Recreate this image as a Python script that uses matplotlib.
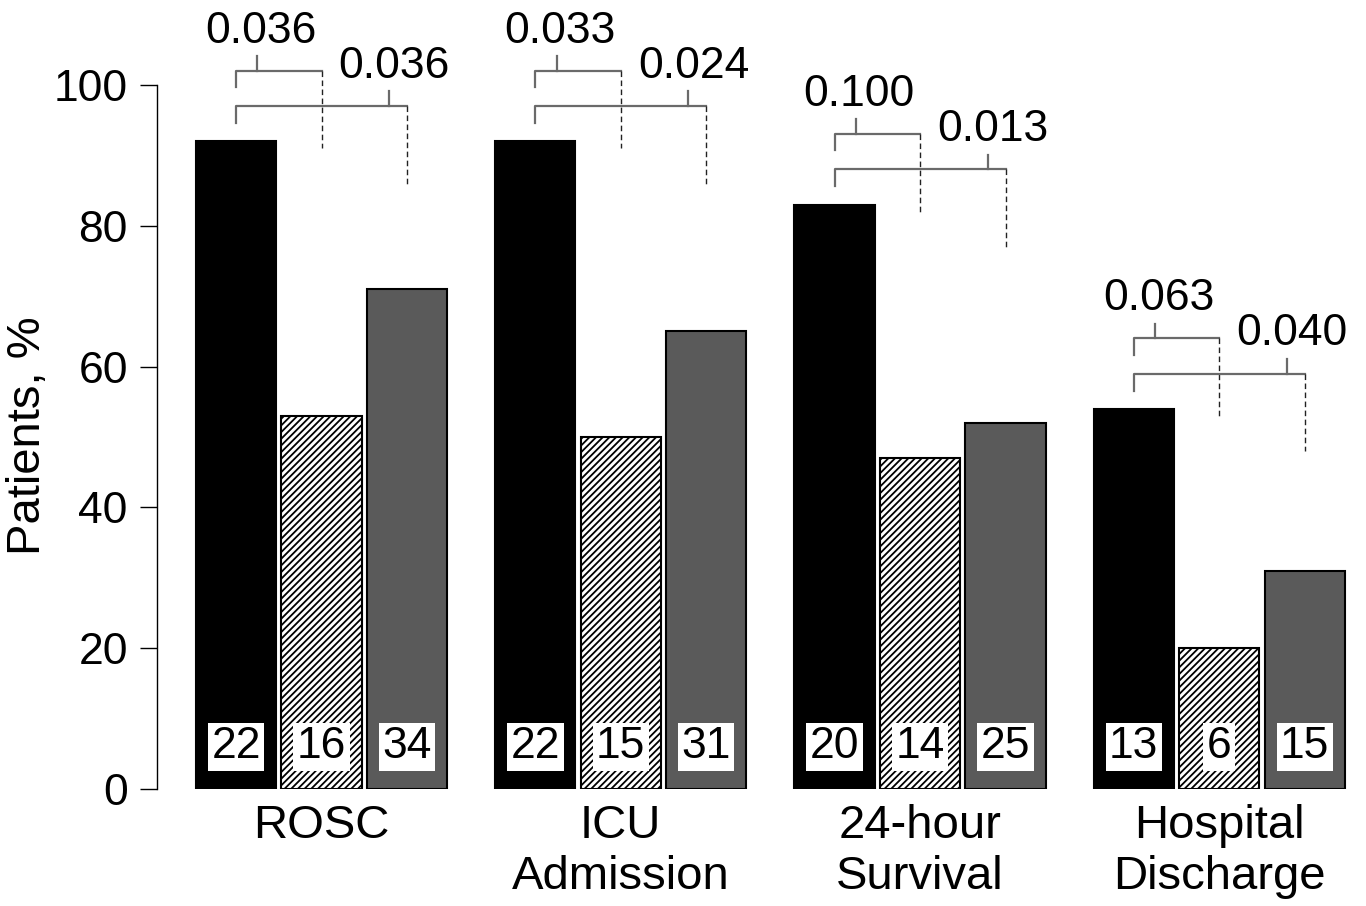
import numpy as np
import matplotlib
matplotlib.use("Agg")
import matplotlib.pyplot as plt

# ============================================================
CATEGORIES = ["ROSC", "ICU\nAdmission", "24-hour\nSurvival", "Hospital\nDischarge"]
BLACK_PCT = [92, 92, 83, 54]
HATCH_PCT = [53, 50, 47, 20]
GRAY_PCT = [71, 65, 52, 31]

BLACK_N = [22, 22, 20, 13]
HATCH_N = [16, 15, 14, 6]
GRAY_N = [34, 31, 25, 15]

P_NEAR = ["0.036", "0.033", "0.100", "0.063"]   # black vs hatched
P_FAR = ["0.036", "0.024", "0.013", "0.040"]    # black vs gray

YTICKS = [0, 20, 40, 60, 80, 100]

# ============================================================
plt.rcParams['font.family'] = ['Liberation Sans', 'DejaVu Sans']
plt.rcParams['hatch.linewidth'] = 1.3
FS = 32

W, H = 1366, 906
fig = plt.figure(figsize=(W / 100, H / 100), dpi=100)
ax = fig.add_axes([157 / W, 117 / H, (1356 - 157) / W, 704 / H])

group_step = 3.5
centers = np.arange(len(CATEGORIES)) * group_step
bw = 0.94

ax.bar(centers - 1, BLACK_PCT, bw, color='black', edgecolor='black', lw=1.5)
ax.bar(centers, HATCH_PCT, bw, color='white', edgecolor='black', lw=1.5, hatch='/////')
ax.bar(centers + 1, GRAY_PCT, bw, color='#5a5a5a', edgecolor='black', lw=1.5)

# counts in white boxes at bottom of bars
box = dict(boxstyle='square,pad=0.08', fc='white', ec='none')
for offs, counts in [(-1, BLACK_N), (0, HATCH_N), (1, GRAY_N)]:
    for c, n in zip(centers, counts):
        ax.text(c + offs, 6, str(n), ha='center', va='center', fontsize=FS,
                bbox=box, zorder=5)

# significance brackets
br_col = '#6a6a6a'
for c, h, pn, pf in zip(centers, BLACK_PCT, P_NEAR, P_FAR):
    xb, xh, xg = c - 1, c, c + 1
    # near bracket (black vs hatched)
    y1 = h + 10
    ax.plot([xb, xb, xh], [h + 7.7, y1, y1], color=br_col, lw=1.6, clip_on=False)
    ax.plot([xh, xh], [y1, h - 1], color='#222222', lw=1, ls=(0, (4, 2.5)), clip_on=False)
    ax.plot([xb + 0.25, xb + 0.25], [y1, y1 + 2.1], color=br_col, lw=1.6, clip_on=False)
    ax.text(xb + 0.29, h + 14, pn, ha='center', va='baseline', fontsize=FS)
    # far bracket (black vs gray)
    y2 = h + 5
    ax.plot([xb, xb, xg], [h + 2.6, y2, y2], color=br_col, lw=1.6, clip_on=False)
    ax.plot([xg, xg], [y2, h - 6], color='#222222', lw=1, ls=(0, (4, 2.5)), clip_on=False)
    ax.plot([xb + 1.79, xb + 1.79], [y2, y2 + 2.1], color=br_col, lw=1.6, clip_on=False)
    ax.text(xb + 1.85, h + 9, pf, ha='center', va='baseline', fontsize=FS)

ax.set_xlim(-1 - (236 - 157) / 85.5, (1356 - 321.5) / 85.5)
ax.set_ylim(0, 100)
ax.set_yticks(YTICKS)
ax.set_xticks(centers, CATEGORIES)
ax.tick_params(axis='y', labelsize=FS, length=12, width=1, pad=9)
ax.tick_params(axis='x', labelsize=34, length=0, pad=11)
for s in ['top', 'right', 'bottom']:
    ax.spines[s].set_visible(False)
ax.spines['left'].set_linewidth(1)

fig.text(28 / W, 1 - 436 / H, "Patients, %", rotation=90, ha='center', va='center',
         fontsize=34)

fig.savefig("out.png", dpi=100)
